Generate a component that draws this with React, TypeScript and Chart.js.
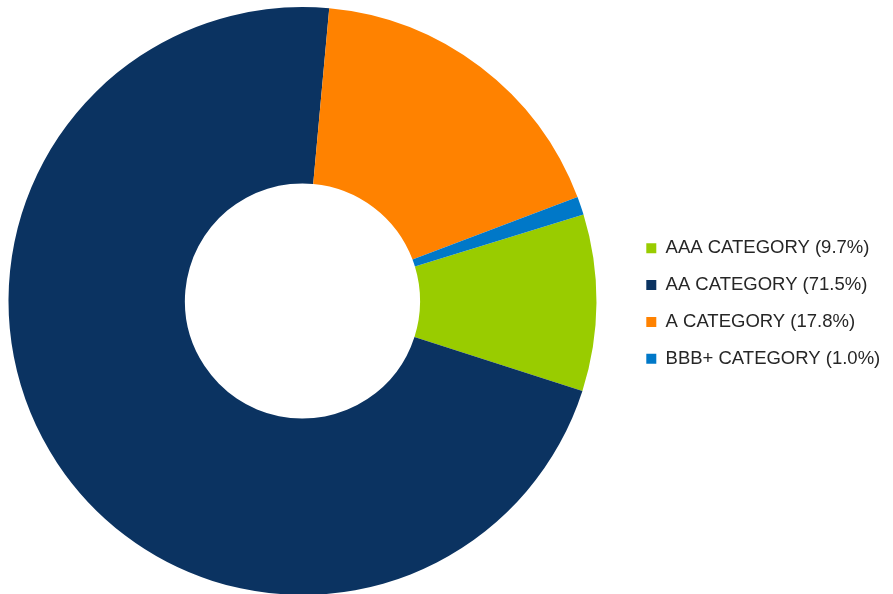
import React, { useEffect, useRef } from "react";
import { Chart, registerables } from "chart.js";

Chart.register(...registerables);

const categories: string[] = ["AAA CATEGORY", "AA CATEGORY", "A CATEGORY", "BBB+ CATEGORY"];
const shares: number[] = [9.7, 71.5, 17.8, 1.0];
const colors: string[] = ["#99CC00", "#0B3361", "#FF8200", "#0078C8"];

const W = 893;
const H = 602;
const CHART_RIGHT = 605;
const LEGEND_LEFT = 628;
const LEGEND_DY = 2.5;

const legendShift = {
  id: "legendShift",
  afterInit(chart: any) {
    const lg = chart.legend;
    if (!lg) return;
    const orig = lg.fit.bind(lg);
    lg.fit = function () {
      orig();
      this.width = W - CHART_RIGHT;
    };
  },
  afterLayout(chart: any) {
    const lg = chart.legend;
    if (!lg) return;
    lg.left = LEGEND_LEFT;
    lg.right = W;
    lg.top += LEGEND_DY;
    lg.bottom += LEGEND_DY;
  },
};

export default function App() {
  const ref = useRef<HTMLCanvasElement | null>(null);
  useEffect(() => {
    document.body.style.margin = "0";
    const chart = new Chart(ref.current as HTMLCanvasElement, {
      type: "doughnut",
      data: {
        labels: categories.map((c, i) => `${c} (${shares[i].toFixed(1)}%)`),
        datasets: [
          {
            data: shares,
            backgroundColor: colors,
            borderWidth: 0,
            hoverOffset: 0,
          },
        ],
      },
      options: {
        responsive: false,
        animation: false,
        cutout: "40%",
        rotation: 72.9,
        layout: { padding: { top: 7, bottom: 7, left: 0, right: 0 } },
        plugins: {
          tooltip: { enabled: false },
          legend: {
            position: "right",
            align: "center",
            labels: {
              boxWidth: 10,
              boxHeight: 10,
              padding: 18.3,
              color: "#262626",
              font: { family: "Arial, 'Liberation Sans', sans-serif", size: 18.5 },
            },
          },
        },
      },
      plugins: [legendShift],
    });
    return () => chart.destroy();
  }, []);
  return (
    <div style={{ position: "absolute", left: 0, top: 0, width: W, height: H }}>
      <canvas ref={ref} width={W} height={H} style={{ display: "block" }} />
    </div>
  );
}
